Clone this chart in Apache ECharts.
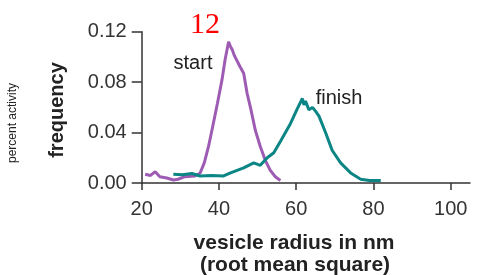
<!DOCTYPE html>
<html>
<head>
<meta charset="utf-8">
<script src="https://cdn.jsdelivr.net/npm/echarts@6/dist/echarts.min.js"></script>
<style>
  html, body { margin: 0; padding: 0; background: #fff; }
  #chart { width: 490px; height: 275px; }
</style>
</head>
<body>
<div id="chart"></div>
<script>
// radius (nm) and frequency
var startX = [20.9, 22.3, 23.5, 24.7, 26.5, 28.2, 29.4, 31.2, 33.8, 35.1, 36.2, 37.3, 38.4, 39.6, 40.8, 41.6, 42.5, 43.0, 43.4, 44.0, 44.5, 45.5, 46.4, 47.3, 48.3, 49.4, 50.7, 52.0, 53.3, 54.6, 55.9];
var startY = [0.007, 0.006, 0.009, 0.005, 0.004, 0.0024, 0.003, 0.005, 0.0056, 0.0077, 0.016, 0.029, 0.045, 0.063, 0.082, 0.098, 0.112, 0.108, 0.106, 0.101, 0.100, 0.092, 0.087, 0.071, 0.058, 0.042, 0.029, 0.018, 0.010, 0.005, 0.002];

var finishX = [28.2, 30.5, 33.0, 35.1, 38.0, 41.2, 43.0, 46.4, 49.0, 50.7, 52.5, 54.2, 55.9, 58.5, 60.3, 61.6, 62.0, 62.4, 63.3, 64.2, 65.0, 65.9, 67.6, 69.3, 71.5, 74.1, 76.7, 79.0, 81.9];
var finishY = [0.007, 0.0065, 0.0075, 0.0056, 0.006, 0.0056, 0.008, 0.012, 0.016, 0.014, 0.020, 0.024, 0.033, 0.047, 0.059, 0.067, 0.062, 0.065, 0.058, 0.060, 0.057, 0.053, 0.040, 0.026, 0.016, 0.008, 0.003, 0.002, 0.002];

var xTicks = [20, 40, 60, 80, 100];
var yTicks = [0, 0.04, 0.08, 0.12];

function pairs(xs, ys) {
  return xs.map(function (x, i) { return [x, ys[i]]; });
}

var axisColor = '#333';
var chart = echarts.init(document.getElementById('chart'));
chart.setOption({
  animation: false,
  grid: { left: 141.7, right: 20, top: 31.7, bottom: 92 },
  xAxis: {
    type: 'value', min: 20, max: 105, interval: 20,
    axisLine: { lineStyle: { color: axisColor, width: 1.5 } },
    axisTick: { show: true, length: 7, customValues: xTicks, lineStyle: { color: axisColor, width: 1.5 } },
    axisLabel: { customValues: xTicks, margin: 16, fontSize: 20, color: '#333', fontFamily: 'Liberation Sans' },
    splitLine: { show: false }
  },
  yAxis: {
    type: 'value', min: 0, max: 0.12, interval: 0.04,
    axisLine: { show: true, lineStyle: { color: axisColor, width: 1.5 } },
    axisTick: { show: true, length: 10, customValues: yTicks, lineStyle: { color: axisColor, width: 1.5 } },
    axisLabel: {
      customValues: yTicks, margin: 15, fontSize: 20, color: '#333', fontFamily: 'Liberation Sans',
      formatter: function (v) { return v.toFixed(2); }
    },
    splitLine: { show: false }
  },
  series: [
    {
      name: 'start', type: 'line', data: pairs(startX, startY), showSymbol: false,
      lineStyle: { color: '#9e5bb3', width: 3 }
    },
    {
      name: 'finish', type: 'line', data: pairs(finishX, finishY), showSymbol: false,
      lineStyle: { color: '#0c8585', width: 3 }
    }
  ],
  graphic: [
    { type: 'text', x: 205, y: 25, style: { text: '12', fill: '#ff0000', font: '30px "Liberation Serif"', textAlign: 'center', textVerticalAlign: 'middle' } },
    { type: 'text', x: 193, y: 63, style: { text: 'start', fill: '#222', font: '20px "Liberation Sans"', textAlign: 'center', textVerticalAlign: 'middle' } },
    { type: 'text', x: 339, y: 98, style: { text: 'finish', fill: '#222', font: '20px "Liberation Sans"', textAlign: 'center', textVerticalAlign: 'middle' } },
    { type: 'text', x: 57, y: 110, rotation: Math.PI / 2, style: { text: 'frequency', fill: '#222', font: 'bold 20px "Liberation Sans"', textAlign: 'center', textVerticalAlign: 'middle' } },
    { type: 'text', x: 13, y: 123, rotation: Math.PI / 2, style: { text: 'percent activity', fill: '#222', font: '12px "Liberation Sans"', textAlign: 'center', textVerticalAlign: 'middle' } },
    { type: 'text', x: 294, y: 243, style: { text: 'vesicle radius in nm', fill: '#222', font: 'bold 21px "Liberation Sans"', textAlign: 'center', textVerticalAlign: 'middle' } },
    { type: 'text', x: 295, y: 265, style: { text: '(root mean square)', fill: '#222', font: 'bold 21px "Liberation Sans"', textAlign: 'center', textVerticalAlign: 'middle' } }
  ]
});
</script>
</body>
</html>
